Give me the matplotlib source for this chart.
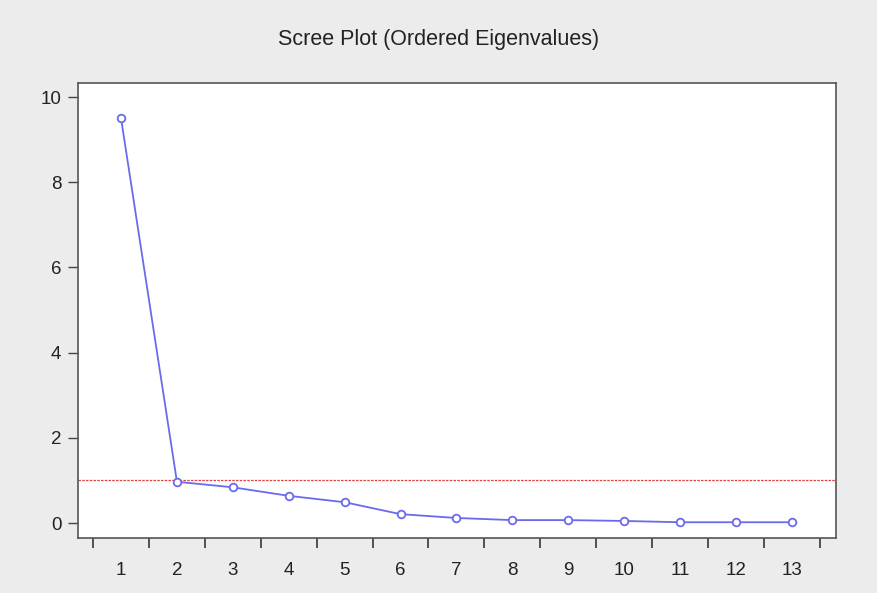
import matplotlib
matplotlib.use("Agg")
import matplotlib.pyplot as plt
from matplotlib.ticker import FixedLocator, NullFormatter

components = list(range(1, 14))
eigenvalues = [9.5, 0.97, 0.84, 0.64, 0.49, 0.21, 0.12, 0.07, 0.07, 0.05, 0.02, 0.02, 0.02]
threshold = 1.0
yticks = [0, 2, 4, 6, 8, 10]

plt.rcParams['font.family'] = ['Liberation Sans', 'DejaVu Sans']

fig = plt.figure(figsize=(8.77, 5.93), dpi=100, facecolor='#ececec')
ax = fig.add_axes([78/877, 1-538/593, (836-78)/877, (538-83)/593])
ax.set_facecolor('white')

ax.axhline(threshold, color='#e04040', lw=0.9, ls=(0, (2, 1)))
ax.plot(components, eigenvalues, color='#6a6aee', lw=1.3, marker='o',
        markersize=5.5, markerfacecolor='white', markeredgecolor='#6a6aee',
        markeredgewidth=1.3)

ax.set_xlim(0.23, 13.79)
ax.set_ylim(-0.35, 10.33)
ax.set_yticks(yticks)
ax.set_xticks(components)
ax.xaxis.set_minor_locator(FixedLocator([c + 0.5 for c in [0] + components]))
ax.xaxis.set_minor_formatter(NullFormatter())
ax.tick_params(axis='x', which='major', length=0, pad=17, labelsize=13.5, colors='#222222')
ax.tick_params(axis='x', which='minor', length=7, width=1.3, color='#444444', direction='out')
ax.tick_params(axis='y', which='major', length=7, width=1.0, color='#444444', pad=5,
               labelsize=13.5, labelcolor='#222222')
for s in ax.spines.values():
    s.set_color('#555555')
    s.set_linewidth(1.2)

fig.text(0.5, 1-40/593, 'Scree Plot (Ordered Eigenvalues)', ha='center', va='center',
         fontsize=15.5, color='#222222')

fig.savefig('out.png', dpi=100, facecolor=fig.get_facecolor())
